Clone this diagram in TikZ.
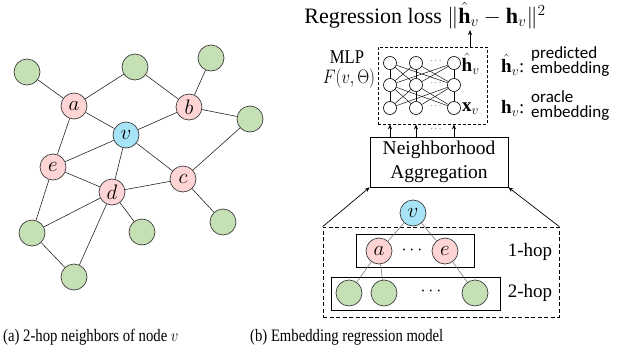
\documentclass[tikz,border=0pt]{standalone}
\usepackage{fix-cm}
\usepackage{fontspec}
\setmainfont{Liberation Serif}
\newfontfamily\calib{Carlito}
\usetikzlibrary{arrows.meta}
\definecolor{greenf}{HTML}{C5E0B4}
\definecolor{pinkf}{HTML}{FFD4D4}
\definecolor{bluef}{HTML}{A8E4F8}
\definecolor{strk}{HTML}{404040}
\begin{document}
\begin{tikzpicture}[x=1pt,y=-1pt,
  gnode/.style={circle,draw=strk,line width=0.7pt,fill=greenf,minimum size=26pt,inner sep=0pt},
  pnode/.style={gnode,fill=pinkf,font=\fontsize{21}{21}\selectfont},
  bnode/.style={gnode,fill=bluef,font=\fontsize{21}{21}\selectfont},
  link/.style={line width=0.6pt,draw=black!85},
  tlink/.style={line width=0.5pt,draw=black!60},
  neuron/.style={circle,draw,line width=0.6pt,minimum size=13pt,inner sep=0pt,fill=white},
  nlink/.style={line width=0.45pt},
  arr/.style={line width=0.7pt,-{Stealth[length=5pt,width=4pt]}},
  dbox/.style={draw,dashed,line width=0.7pt,dash pattern=on 3pt off 2pt,inner sep=0pt},
  sbox/.style={draw,line width=0.7pt,inner sep=0pt},
  dotsl/.style={font=\fontsize{9}{9}\selectfont,inner sep=0pt},
  txt/.style={inner sep=0pt}
]
\useasboundingbox (0,0) rectangle (633,362);

% ---------- (a) graph ----------
\node[gnode] (g1) at (27,72) {};
\node[gnode] (g2) at (135,67) {};
\node[gnode] (g3) at (211,58) {};
\node[pnode] (a) at (74,106) {$a$};
\node[pnode] (b) at (189,107) {$b$};
\node[bnode] (v) at (126,135) {$v$};
\node[gnode] (g4) at (250,119) {};
\node[pnode] (e) at (53,167) {$e$};
\node[pnode] (c) at (183,179) {$c$};
\node[pnode] (d) at (112,192) {$d$};
\node[gnode] (g5) at (32,233) {};
\node[gnode] (g6) at (142,232) {};
\node[gnode] (g7) at (223,222) {};
\node[gnode] (g8) at (74,277) {};
\foreach \p/\q in {g1/a,a/g2,g2/b,b/g3,b/g4,a/v,v/b,a/e,v/e,v/d,v/c,e/d,d/c,c/g4,c/g7,e/g5,d/g5,d/g8,g5/g8,d/g6}
  \draw[link] (\p) -- (\q);

% ---------- (b) model ----------
\node[txt,anchor=base,font=\fontsize{22}{26}\selectfont] (loss) at (425,23) {Regression loss $\|\hat{\mathbf{h}}_v-\mathbf{h}_v\|^2$};

\node[dbox,minimum width=109pt,minimum height=77pt] (mlp) at (432.5,85.5) {};
\coordinate (tip) at (470,30);
\draw[arr] (mlp.north -| tip) -- (tip);

\foreach \c/\x in {1/390,2/416,3/454}
  \foreach \r/\y in {1/63,2/85,3/108}
    \node[neuron] (n\r\c) at (\x,\y) {};
\foreach \p in {1,2,3}
  \foreach \q in {1,2,3} {
    \draw[nlink] (n1\p) -- (n2\q);
    \draw[nlink] (n2\p) -- (n3\q);
  }
\foreach \r/\y in {1/61,2/83,3/106}
  \node[dotsl] (dd\r) at (436,\y) {$\cdots$};

\node[txt,anchor=west,font=\fontsize{19}{19}\selectfont] (hhat) at (461.5,64) {$\hat{\mathbf{h}}_v$};
\node[txt,anchor=west,font=\fontsize{19}{19}\selectfont] (xv) at (462,109) {$\mathbf{x}_v$};

\node[txt,font=\fontsize{19.5}{19.5}\selectfont] (mlplab) at (347,57) {\scalebox{0.85}[1]{MLP}};
\node[txt,font=\fontsize{19.5}{19.5}\selectfont] (flab) at (349,79) {\scalebox{0.85}[1]{$F(v,\Theta)$}};

\node[txt,anchor=west,font=\fontsize{19}{19}\selectfont] (hh) at (501,65) {$\hat{\mathbf{h}}_v$:};
\node[txt,anchor=west,align=left,font=\calib\fontsize{17}{15}\selectfont] (pred) at (531,62) {predicted\\embedding};
\node[txt,anchor=west,font=\fontsize{19}{19}\selectfont] (ho) at (501,108) {$\mathbf{h}_v$:};
\node[txt,anchor=west,align=left,font=\calib\fontsize{17}{15}\selectfont] (orac) at (531,106) {oracle\\embedding};

\node[sbox,minimum width=138pt,minimum height=50pt,align=center,font=\fontsize{19.5}{24}\selectfont] (na) at (439,162) {Neighborhood\\Aggregation};
\foreach \c in {1,2,3}
  \draw[arr] (na.north -| n3\c) -- (mlp.south -| n3\c);
\node[dotsl] (dd4) at (436,129) {$\cdots$};

\node[dbox,dash pattern=on 4pt off 2.5pt,minimum width=236pt,minimum height=90pt] (hop) at (441,272) {};
\draw[arr] (hop.north west) -- (na.south west);
\draw[arr] (hop.north east) -- (na.south east);

\node[sbox,minimum width=118pt,minimum height=33pt] (box1) at (415,250.5) {};
\node[sbox,minimum width=169pt,minimum height=33pt] (box2) at (415.5,293.5) {};

\node[bnode] (tv) at (413,213) {$v$};
\node[pnode] (ta) at (379,251) {$a$};
\node[pnode] (te) at (445,251) {$e$};
\node[gnode] (t1) at (349,293) {};
\node[gnode] (t2) at (384,293) {};
\node[gnode] (t3) at (475,293) {};
\node[txt,font=\fontsize{18}{18}\selectfont] (d1) at (412,250) {$\cdots$};
\node[txt,font=\fontsize{18}{18}\selectfont] (d2) at (431,291) {$\cdots$};
\foreach \p/\q in {tv/ta,tv/te,ta/t1,ta/t2,te/t3}
  \draw[tlink] (\p) -- (\q);

\node[txt,font=\fontsize{19}{19}\selectfont] (h1) at (530,252) {1-hop};
\node[txt,font=\fontsize{19}{19}\selectfont] (h2) at (530,293) {2-hop};

% captions
\node[txt,anchor=base west,font=\fontsize{17.5}{17.5}\selectfont] (capa) at (3,341) {\scalebox{0.84}[1]{(a) 2-hop neighbors of node $v$}};
\node[txt,anchor=base west,font=\fontsize{17.5}{17.5}\selectfont] (capb) at (250,341) {\scalebox{0.84}[1]{(b) Embedding regression model}};
\end{tikzpicture}
\end{document}
